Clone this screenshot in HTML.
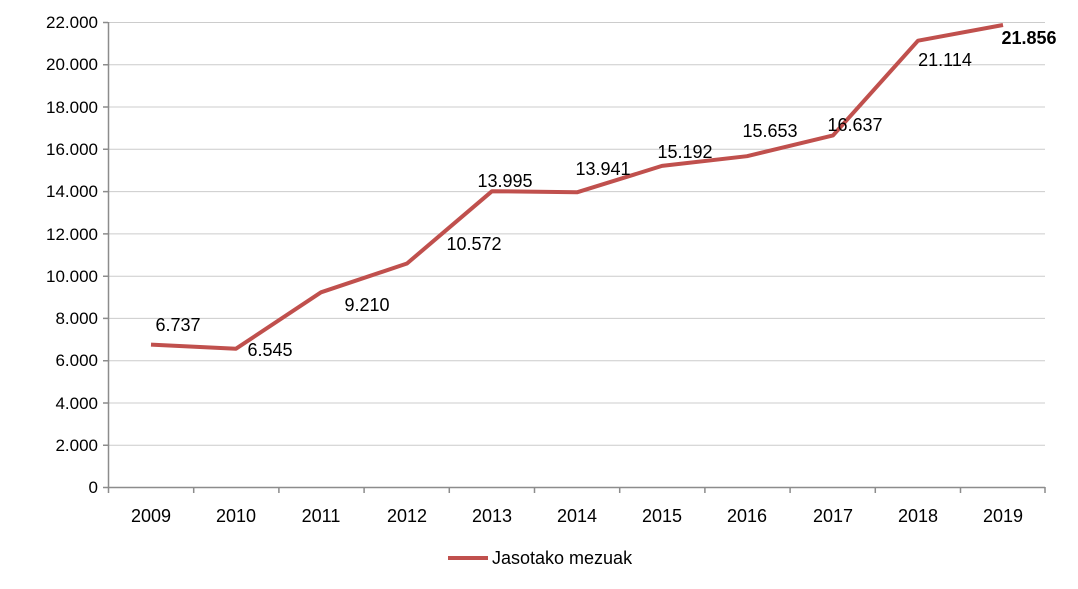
<!DOCTYPE html>
<html><head><meta charset="utf-8"><style>body{margin:0;background:#fff}svg{display:block}text{font-family:"Liberation Sans",sans-serif;font-size:18px;fill:#000}text.y{font-size:17px}text.b{font-weight:bold}</style></head>
<body>
<svg width="1078" height="589" viewBox="0 0 1078 589">
<g stroke="#cccccc" stroke-width="1">
<line x1="108" x2="1045" y1="22.5" y2="22.5"/><line x1="108" x2="1045" y1="64.8" y2="64.8"/><line x1="108" x2="1045" y1="107" y2="107"/><line x1="108" x2="1045" y1="149.3" y2="149.3"/><line x1="108" x2="1045" y1="191.6" y2="191.6"/><line x1="108" x2="1045" y1="233.9" y2="233.9"/><line x1="108" x2="1045" y1="276.2" y2="276.2"/><line x1="108" x2="1045" y1="318.4" y2="318.4"/><line x1="108" x2="1045" y1="360.7" y2="360.7"/><line x1="108" x2="1045" y1="403" y2="403"/><line x1="108" x2="1045" y1="445.3" y2="445.3"/>
</g>
<g stroke="#8c8c8c" stroke-width="1.5">
<line x1="108.5" x2="108.5" y1="22" y2="493"/><line x1="103" x2="1045" y1="487.5" y2="487.5"/>
<path d="M103 22.5h5M103 64.8h5M103 107h5M103 149.3h5M103 191.6h5M103 233.9h5M103 276.2h5M103 318.4h5M103 360.7h5M103 403h5M103 445.3h5"/>
<path d="M193.7 487v6M278.9 487v6M364.1 487v6M449.3 487v6M534.5 487v6M619.7 487v6M704.9 487v6M790.1 487v6M875.3 487v6M960.5 487v6M1045 487v6"/>
</g>
<g text-anchor="end">
<text class="y" x="98" y="28">22.000</text><text class="y" x="98" y="70">20.000</text><text class="y" x="98" y="113">18.000</text><text class="y" x="98" y="155">16.000</text><text class="y" x="98" y="197">14.000</text><text class="y" x="98" y="240">12.000</text><text class="y" x="98" y="282">10.000</text><text class="y" x="98" y="324">8.000</text><text class="y" x="98" y="366">6.000</text><text class="y" x="98" y="409">4.000</text><text class="y" x="98" y="451">2.000</text><text class="y" x="98" y="493">0</text>
</g>
<g text-anchor="middle">
<text x="151" y="522">2009</text><text x="236" y="522">2010</text><text x="321" y="522">2011</text><text x="407" y="522">2012</text><text x="492" y="522">2013</text><text x="577" y="522">2014</text><text x="662" y="522">2015</text><text x="747" y="522">2016</text><text x="833" y="522">2017</text><text x="918" y="522">2018</text><text x="1003" y="522">2019</text>
</g>
<polyline fill="none" stroke="#c0504d" stroke-width="4" stroke-linejoin="round" points="151,344.6 236,348.7 321,292.3 407,263.5 492,191.2 577,192.3 662,165.9 747,156.2 833,135.4 918,40.7 1003,25.0"/>
<g text-anchor="middle">
<text x="178" y="331">6.737</text><text x="270" y="356">6.545</text><text x="367" y="311">9.210</text><text x="474" y="250">10.572</text><text x="505" y="187">13.995</text><text x="603" y="175">13.941</text><text x="685" y="158">15.192</text><text x="770" y="137">15.653</text><text x="855" y="131">16.637</text><text x="945" y="66">21.114</text><text class="b" x="1029" y="44">21.856</text>
</g>
<line x1="448" x2="488" y1="558" y2="558" stroke="#c0504d" stroke-width="4"/>
<text x="492" y="564">Jasotako mezuak</text>
</svg>
</body></html>
